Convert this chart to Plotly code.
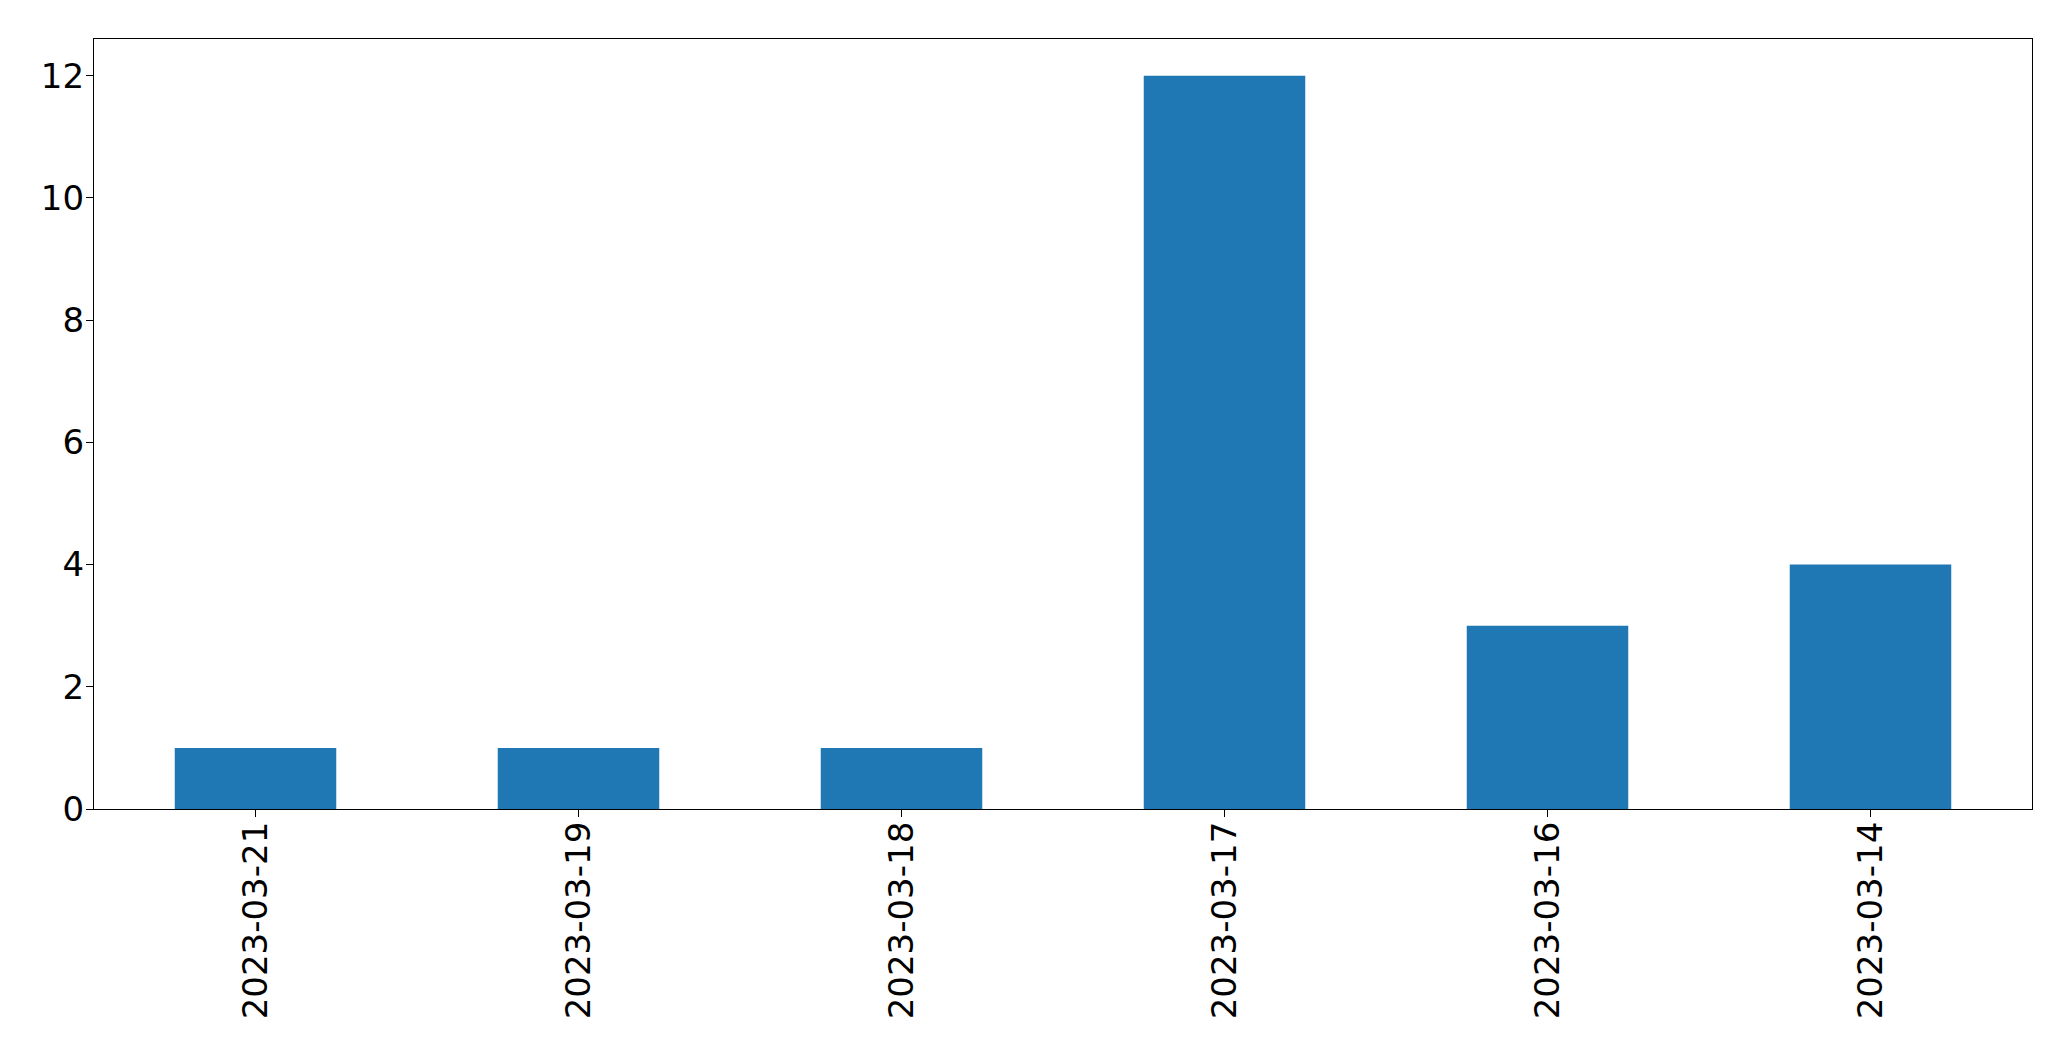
import plotly.graph_objects as go

dates = ["2023-03-21", "2023-03-19", "2023-03-18", "2023-03-17", "2023-03-16", "2023-03-14"]
counts = [1, 1, 1, 12, 3, 4]

fig = go.Figure(go.Bar(x=dates, y=counts, marker=dict(color="#1f77b4", line=dict(width=0)), width=0.5))

fig.update_layout(
    width=2055, height=1045,
    margin=dict(l=86, r=31, t=31, b=244),
    paper_bgcolor="white", plot_bgcolor="white",
    font=dict(family="DejaVu Sans", size=34, color="black"),
    showlegend=False,
)
fig.update_xaxes(
    type="category", range=[-0.5, 5.5],
    showline=True, linecolor="black", linewidth=1.3, mirror=True,
    ticks="outside", ticklen=7, tickwidth=1.3, tickcolor="black",
    tickangle=-90, showgrid=False, zeroline=False, ticklabelstandoff=-9,
)
fig.update_yaxes(
    range=[0, 12.6], tickvals=[0, 2, 4, 6, 8, 10, 12],
    showline=True, linecolor="black", linewidth=1.3, mirror=True,
    ticks="outside", ticklen=7, tickwidth=1.3, tickcolor="black",
    showgrid=False, zeroline=False, ticklabelstandoff=-5,
)

fig.write_html("out.html")
